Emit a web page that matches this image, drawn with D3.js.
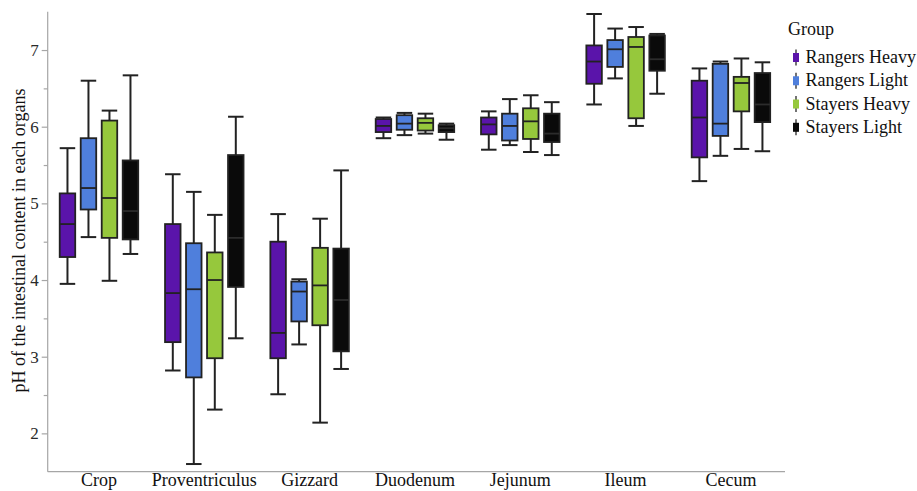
<!DOCTYPE html>
<html>
<head>
<meta charset="utf-8">
<script src="https://cdn.jsdelivr.net/npm/d3@7/dist/d3.min.js"></script>
<style>
  html, body { margin: 0; padding: 0; background: #fff; }
  svg { display: block; font-family: "Liberation Serif", "Times New Roman", serif; }
</style>
</head>
<body>
<svg id="chart" width="917" height="491"></svg>
<script>
// ---- data (five-number summaries: whisker low, Q1, median, Q3, whisker high) ----
const organs = ["Crop", "Proventriculus", "Gizzard", "Duodenum", "Jejunum", "Ileum", "Cecum"];
const groups = ["Rangers Heavy", "Rangers Light", "Stayers Heavy", "Stayers Light"];
const groupColors = ["#5a14aa", "#4f7fdc", "#96c83c", "#0a0a0a"];

const rangersHeavy = [
  [3.95, 4.30, 4.73, 5.13, 5.72],
  [2.82, 3.19, 3.83, 4.73, 5.38],
  [2.51, 2.98, 3.31, 4.50, 4.86],
  [5.85, 5.93, 6.01, 6.10, 6.12],
  [5.70, 5.90, 6.03, 6.12, 6.20],
  [6.29, 6.56, 6.85, 7.06, 7.47],
  [5.29, 5.60, 6.12, 6.60, 6.76]
];
const rangersLight = [
  [4.56, 4.92, 5.20, 5.85, 6.60],
  [1.60, 2.73, 3.88, 4.48, 5.15],
  [3.16, 3.46, 3.85, 3.98, 4.01],
  [5.89, 5.96, 6.04, 6.15, 6.18],
  [5.76, 5.82, 6.01, 6.17, 6.36],
  [6.63, 6.78, 7.01, 7.13, 7.28],
  [5.62, 5.88, 6.04, 6.82, 6.85]
];
const stayersHeavy = [
  [3.99, 4.55, 5.07, 6.08, 6.21],
  [2.31, 2.98, 4.00, 4.36, 4.85],
  [2.14, 3.41, 3.93, 4.42, 4.80],
  [5.91, 5.95, 6.05, 6.11, 6.17],
  [5.67, 5.84, 6.07, 6.24, 6.41],
  [6.01, 6.11, 7.04, 7.17, 7.30],
  [5.71, 6.20, 6.57, 6.65, 6.89]
];
const stayersLight = [
  [4.34, 4.53, 4.90, 5.56, 6.67],
  [3.24, 3.91, 4.55, 5.63, 6.13],
  [2.84, 3.07, 3.74, 4.41, 5.43],
  [5.83, 5.93, 5.98, 6.02, 6.04],
  [5.63, 5.80, 5.91, 6.17, 6.32],
  [6.43, 6.73, 6.88, 7.19, 7.21],
  [5.68, 6.06, 6.29, 6.70, 6.84]
];
const seriesValues = [rangersHeavy, rangersLight, stayersHeavy, stayersLight];

const yMajorTicks = [2, 3, 4, 5, 6, 7];
const yMinorTicks = [2.5, 3.5, 4.5, 5.5, 6.5];
const yTitle = "pH of the intestinal content in each organs";
const legendTitle = "Group";

// ---- build records ----
const records = [];
groups.forEach((g, gi) => {
  organs.forEach((o, oi) => {
    const v = seriesValues[gi][oi];
    records.push({ organ: o, group: g, gi, low: v[0], q1: v[1], med: v[2], q3: v[3], high: v[4] });
  });
});

// ---- scales ----
const svg = d3.select("#chart");
const axisColor = "#a6a6a6";
const inkColor = "#222";

const y = d3.scaleLinear().domain([1.5, 7.5]).range([471.7, 11.7]);
const x = d3.scaleBand().domain(organs).range([46.3, 783.6]).padding(0);
const xInner = d3.scaleBand().domain(groups)
  .range([x.bandwidth() / 2 - 42, x.bandwidth() / 2 + 42])
  .paddingInner(0.262).paddingOuter(0.131);
const color = d3.scaleOrdinal().domain(groups).range(groupColors);

// ---- axes ----
const yAxis = svg.append("g").attr("transform", "translate(47.7,0)")
  .call(d3.axisLeft(y).tickValues(yMajorTicks).tickSize(6).tickPadding(3).tickFormat(d3.format("d")));
yAxis.select(".domain").attr("stroke", axisColor).attr("stroke-width", 1.2).attr("d", `M0,${y(7.5)}V${y(1.5)}`);
yAxis.selectAll(".tick line").attr("stroke", axisColor).attr("stroke-width", 1.2);
yAxis.selectAll(".tick text").attr("fill", "#2a2a2a").style("font-size", "17px").style("font-family", "Liberation Serif");

const yMinor = svg.append("g").attr("transform", "translate(47.7,0)")
  .call(d3.axisLeft(y).tickValues(yMinorTicks).tickSize(4).tickFormat(""));
yMinor.select(".domain").remove();
yMinor.selectAll(".tick line").attr("stroke", axisColor).attr("stroke-width", 1.2);

const xAxis = svg.append("g").attr("transform", `translate(0,${y(1.5)})`)
  .call(d3.axisBottom(x).tickSize(0).tickPadding(2));
xAxis.select(".domain").attr("stroke", axisColor).attr("stroke-width", 1.2).attr("d", `M47.7,0H785`);
xAxis.selectAll(".tick text").attr("fill", "#111").style("font-size", "18px").style("font-family", "Liberation Serif")
  .attr("dy", "0.7em");

svg.append("text")
  .attr("transform", `translate(25,240.5) rotate(-90)`)
  .attr("text-anchor", "middle")
  .attr("fill", "#111")
  .style("font-size", "18px")
  .text(yTitle);

// ---- boxes ----
const bw = xInner.bandwidth();
const boxG = svg.append("g").selectAll("g.box").data(records).join("g")
  .attr("class", "box")
  .attr("transform", d => `translate(${x(d.organ) + xInner(d.group)},0)`);

// whiskers
boxG.append("line")
  .attr("x1", bw / 2).attr("x2", bw / 2)
  .attr("y1", d => y(d.high)).attr("y2", d => y(d.low))
  .attr("stroke", inkColor).attr("stroke-width", 2);
boxG.append("line")
  .attr("x1", 0).attr("x2", bw)
  .attr("y1", d => y(d.high)).attr("y2", d => y(d.high))
  .attr("stroke", inkColor).attr("stroke-width", 2);
boxG.append("line")
  .attr("x1", 0).attr("x2", bw)
  .attr("y1", d => y(d.low)).attr("y2", d => y(d.low))
  .attr("stroke", inkColor).attr("stroke-width", 2);
// box
boxG.append("rect")
  .attr("x", 0).attr("width", bw)
  .attr("y", d => y(d.q3)).attr("height", d => y(d.q1) - y(d.q3))
  .attr("fill", d => color(d.group))
  .attr("stroke", inkColor).attr("stroke-width", 1.8);
// median
boxG.append("line")
  .attr("x1", 0).attr("x2", bw)
  .attr("y1", d => y(d.med)).attr("y2", d => y(d.med))
  .attr("stroke", d => d.gi === 3 ? "#2c2c2c" : inkColor).attr("stroke-width", 1.8);

// ---- legend ----
const legend = svg.append("g").attr("transform", "translate(788,0)");
legend.append("text").attr("x", 0).attr("y", 35).attr("fill", "#111")
  .style("font-size", "18px").text(legendTitle);
const rowY = d3.scalePoint().domain(groups).range([57.5, 127.3]);
const item = legend.selectAll("g.item").data(groups).join("g")
  .attr("class", "item")
  .attr("transform", d => `translate(0,${rowY(d)})`);
item.append("line").attr("x1", 8).attr("x2", 8).attr("y1", -8).attr("y2", 8)
  .attr("stroke", "#444").attr("stroke-width", 1.5);
item.append("rect").attr("x", 5).attr("y", -4.5).attr("width", 6).attr("height", 9)
  .attr("fill", d => color(d));
item.append("text").attr("x", 17.5).attr("y", 5.5).attr("fill", "#111")
  .style("font-size", "18px").text(d => d);
</script>
</body>
</html>
